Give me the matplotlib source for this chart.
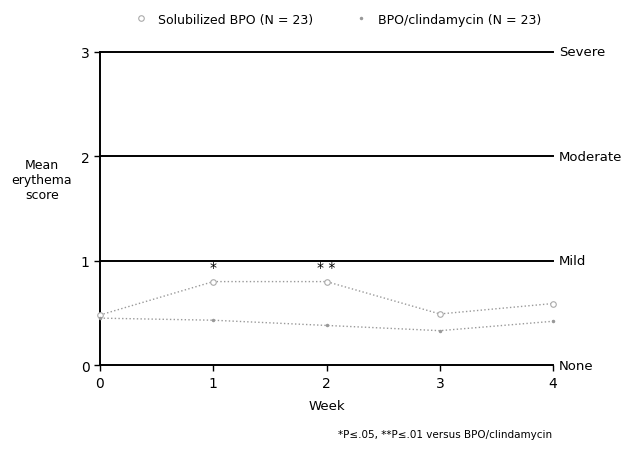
import numpy as np
import matplotlib
matplotlib.use("Agg")
import matplotlib.pyplot as plt
from matplotlib.lines import Line2D

plt.rcParams['font.family'] = ['Liberation Sans Narrow', 'DejaVu Sans']

weeks = [0, 1, 2, 3, 4]
solubilized = [0.48, 0.80, 0.80, 0.49, 0.59]
clindamycin = [0.45, 0.43, 0.38, 0.33, 0.42]
severity_levels = [0, 1, 2, 3]
severity_names = ["None", "Mild", "Moderate", "Severe"]

fig = plt.figure(figsize=(6.25, 4.52), dpi=100)
ax = fig.add_axes([0.16, 0.19, 0.725, 0.693])

# severity reference lines
for lvl, name in zip(severity_levels, severity_names):
    if lvl > 0:
        ax.axhline(lvl, color="black", lw=1.4, zorder=1, clip_on=False)
    ax.text(4.05, lvl, name, va="center", ha="left", fontsize=9.5)

ax.plot(weeks, solubilized, linestyle=":", color="#999999", lw=1,
        marker="o", mfc="white", mec="#aaaaaa", ms=4, mew=0.8,
        clip_on=False, zorder=3)
ax.plot(weeks, clindamycin, linestyle=":", color="#999999", lw=1,
        marker=".", ms=3, clip_on=False, zorder=3)

# significance marks
ax.text(1, 0.87, "*", ha="center", va="bottom", fontsize=10)
ax.text(2, 0.87, "* *", ha="center", va="bottom", fontsize=10)

ax.set_xlim(0, 4)
ax.set_ylim(0, 3)
ax.set_xticks(weeks)
ax.set_yticks(severity_levels)
ax.tick_params(labelsize=10, length=4, width=1)
for s in ["top", "right"]:
    ax.spines[s].set_visible(False)
ax.spines["left"].set_linewidth(1.4)
ax.spines["bottom"].set_linewidth(1.4)

ax.set_xlabel("Week", fontsize=9.5, labelpad=7)
ax.text(-0.128, 0.594, "Mean\nerythema\nscore", transform=ax.transAxes,
        ha="center", va="center", fontsize=9, linespacing=1.2)

handles = [
    Line2D([], [], linestyle="none", marker="o", mfc="white", mec="#aaaaaa", ms=4, mew=0.8),
    Line2D([], [], linestyle="none", marker=".", color="#999999", ms=3),
]
fig.legend(handles, ["Solubilized BPO (N = 23)", "BPO/clindamycin (N = 23)"],
           loc="upper center", bbox_to_anchor=(0.54, 0.995), ncol=2, frameon=False,
           fontsize=9, columnspacing=3.2, handlelength=1.2, handletextpad=0.8)

fig.text(0.883, 0.03, "*P\u2264.05, **P\u2264.01 versus BPO/clindamycin", ha="right",
         fontsize=7.5)

fig.savefig("out.png", dpi=100)
